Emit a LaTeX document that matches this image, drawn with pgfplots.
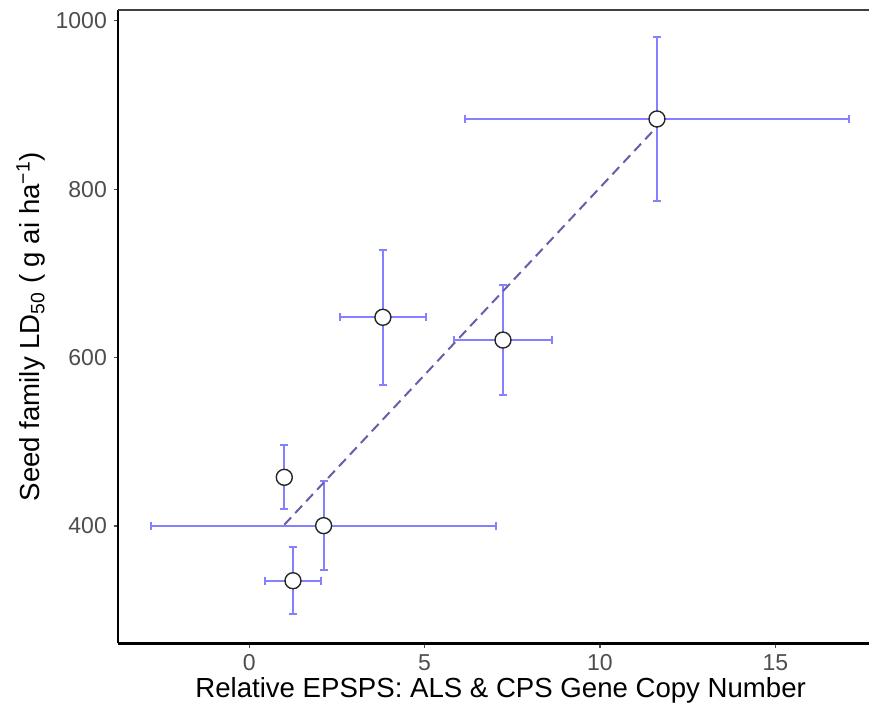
\documentclass[border=0pt]{standalone}
\usepackage{fontspec}
\setmainfont{Liberation Sans}
\usepackage{pgfplots}
\usepackage{pgfplotstable}
\pgfplotsset{compat=1.18}
\definecolor{errcol}{HTML}{8480FF}
\definecolor{fitcol}{HTML}{6560A8}
\definecolor{tickgray}{HTML}{4D4D4D}

\pgfplotstableread{
x       y      ex     ey
11.625  883.3  5.465  97.0
3.81    647.8  1.227  80.2
7.234   620.8  1.40   65.4
0.998   457.8  0      38.2
2.12    400.4  4.91   53.2
1.246   335.0  0.798  40.0
}\ldtable

\begin{document}
\begin{tikzpicture}
% page = 869 x 703 px at 0.5pt per px; axis box lower left at (118.3, 643.3) px
\path[use as bounding box] (-59.15pt,-29.85pt) rectangle (375.35pt,321.65pt);
\begin{axis}[
    at={(0,0)}, anchor=south west,
    scale only axis,
    width=382.35pt, height=316.65pt,
    xmin=-3.735, xmax=18.07,
    ymin=260.7, ymax=1012.7,
    axis x line=bottom, axis y line=left,
    axis line style={black, line width=1.2pt, -},
    xtick={0,5,10,15},
    ytick={400,600,800,1000},
    tick align=outside,
    major tick length=2.2pt,
    tick style={tickgray, line width=0.6pt},
    ticklabel style={font=\fontsize{11.5}{13}\selectfont, text=tickgray},
    /pgf/number format/assume math mode=true,
    /pgf/number format/1000 sep={},
    xlabel={Relative EPSPS: ALS \& CPS Gene Copy Number},
    ylabel={Seed family LD\textsubscript{50} ( g ai ha\textsuperscript{−1})},
    label style={font=\fontsize{13.8}{16}\selectfont},
    xlabel style={at={(axis description cs:0.5,-0.0737)}, anchor=center},
    ylabel style={at={(axis description cs:-0.1142,0.5)}, anchor=center},
    clip=false,
]
\draw[color=black!75, line width=1pt] (rel axis cs:0,1) -- (rel axis cs:1,1);

\addplot[draw=none, mark=none, forget plot,
    error bars/.cd,
    x dir=both, x explicit, y dir=both, y explicit,
    error mark=|,
    error bar style={errcol, line width=1pt},
    error mark options={errcol, line width=1pt, mark size=2pt},
] table[x=x, y=y, x error=ex, y error=ey] {\ldtable};

\addplot[fitcol, line width=1pt, dash pattern=on 5pt off 3pt] coordinates {(0.998,401.5) (11.625,874.1)};

\addplot[only marks, mark=*, mark size=4pt,
    mark options={fill=white, draw=black!85, line width=0.7pt}] table[x=x, y=y] {\ldtable};
\end{axis}
\end{tikzpicture}
\end{document}
